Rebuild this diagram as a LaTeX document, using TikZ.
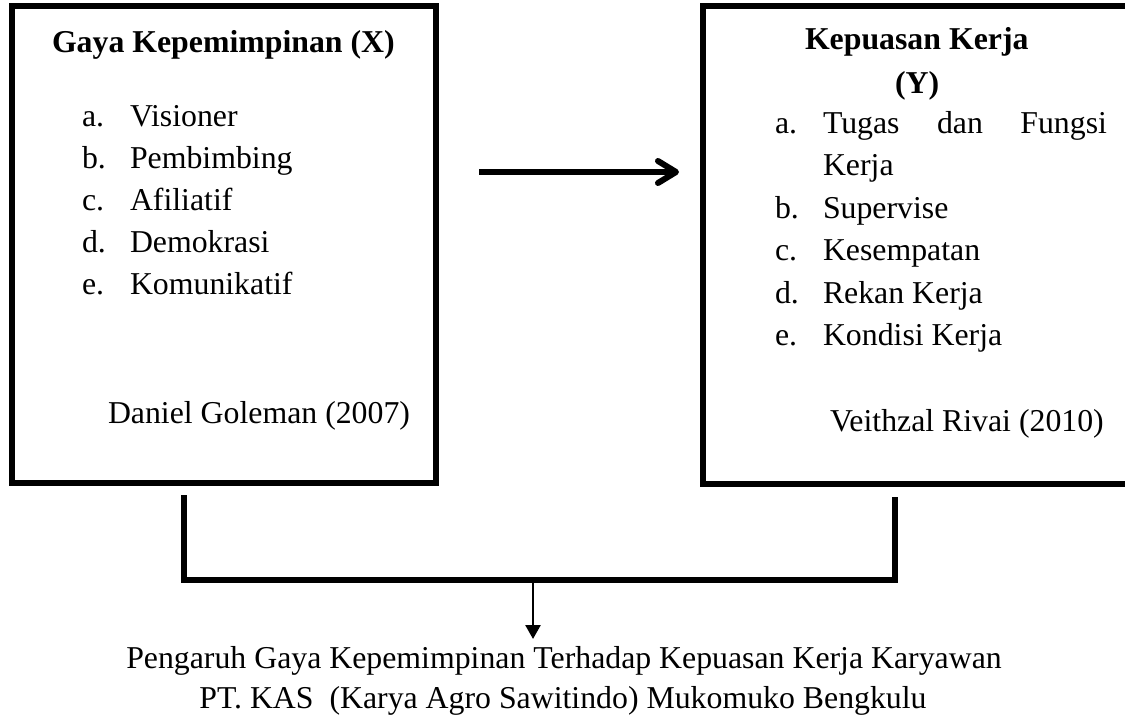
\documentclass[tikz,border=0pt]{standalone}
\usepackage{fontspec}
\setmainfont{Liberation Serif}
\usetikzlibrary{arrows.meta}
\begin{document}
\begin{tikzpicture}[x=0.5pt,y=-0.5pt,
  txt/.style={inner sep=0pt, outer sep=0pt, anchor=base west, font=\fontsize{15.9pt}{21pt}\selectfont},
  ctxt/.style={inner sep=0pt, outer sep=0pt, anchor=base, font=\fontsize{15.9pt}{21pt}\selectfont},
  frame/.style={draw, line width=3pt, rectangle, inner sep=0pt, anchor=center},
  bracket/.style={line width=2.6pt, line join=miter},
  mainarrow/.style={line width=3pt, -{Straight Barb[length=9pt,width=11pt,round]}},
  downarrow/.style={line width=1.3pt, -{Triangle[length=7pt,width=7.5pt]}}]
\useasboundingbox (0,0) rectangle (1125,717);
\clip (0,0) rectangle (1125,717);
\fill[white] (0,0) rectangle (1125,717);

% boxes
\node[frame, minimum width=212pt, minimum height=238.5pt] (boxX) at (224,244.5) {};
\node[frame, minimum width=213.5pt, minimum height=239pt] (boxY) at (916.5,245) {};

% left box text
\node[txt] (tX) at (52,53) {\bfseries Gaya Kepemimpinan (X)};
\foreach \l/\t [count=\i from 0] in {a./Visioner, b./Pembimbing, c./Afiliatif, d./Demokrasi, e./Komunikatif}{
  \node[txt] (xl\i) at (82,126.5+42*\i) {\l};
  \node[txt] (xt\i) at (130,126.5+42*\i) {\t};
}
\node[txt] (srcX) at (108,423.3) {Daniel Goleman (2007)};

% right box text
\node[txt] (tY1) at (805,50) {\bfseries Kepuasan Kerja};
\node[txt] (tY2) at (895,93.3) {\bfseries (Y)};
\node[txt] (yla) at (775,133.3) {a.};
\node[txt] (yta) at (823,133.3) {\makebox[142pt][s]{Tugas\hfill dan\hfill Fungsi}};
\node[txt] (yta2) at (823,175.8) {Kerja};
\foreach \l/\t [count=\i from 1] in {b./Supervise, c./Kesempatan, d./Rekan Kerja, e./Kondisi Kerja}{
  \node[txt] (yl\i) at (775,175.8+42.5*\i) {\l};
  \node[txt] (yt\i) at (823,175.8+42.5*\i) {\t};
}
\node[txt] (srcY) at (830,431.7) {Veithzal Rivai (2010)};

% main arrow
\coordinate (as) at (479,172);
\coordinate (ae) at (679,172);
\draw[mainarrow] (as) -- (ae);

% bracket
\coordinate (bl) at (184,495);
\coordinate (br) at (895,497);
\coordinate (bm) at (533,580);
\draw[bracket] (bl) -- (bl |- bm) -- (br |- bm) -- (br);

% conclusion text
\node[ctxt] (goal1) at (564,668) {Pengaruh Gaya Kepemimpinan Terhadap Kepuasan Kerja Karyawan};
\node[ctxt] (goal2) at (563,708) {PT. KAS\ \ (Karya Agro Sawitindo) Mukomuko Bengkulu};
\coordinate (gt) at (533,639);
\draw[downarrow] (bm) -- (gt);
\end{tikzpicture}
\end{document}
